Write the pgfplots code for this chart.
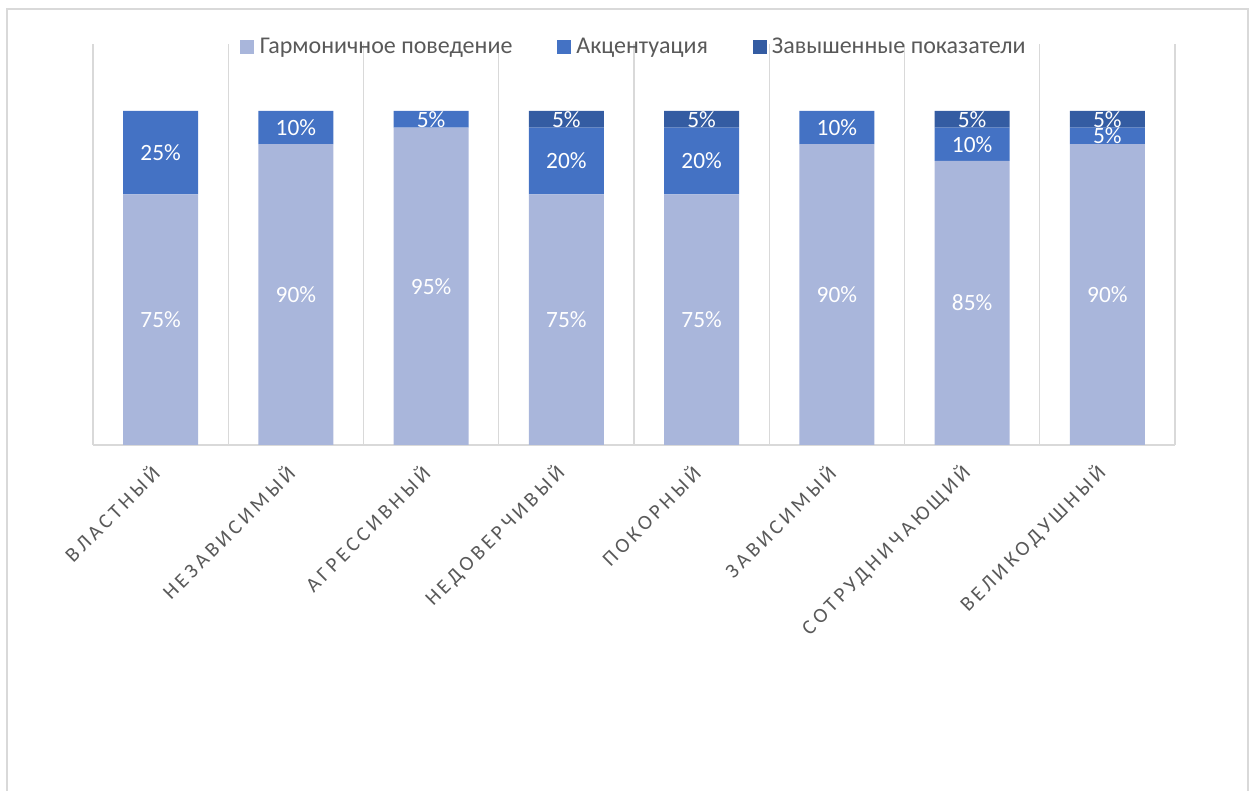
\documentclass[border=0pt]{standalone}
\usepackage{pgfplots}
\pgfplotsset{compat=1.18}
\usepackage{pgfplotstable}
\usepackage{fontspec}
\setmainfont{Carlito}
\newfontfamily\catfont[LetterSpace=18]{Carlito}

\definecolor{harm}{HTML}{A9B6DB}
\definecolor{acc}{HTML}{4472C4}
\definecolor{high}{HTML}{345CA2}
\definecolor{gridc}{HTML}{D9D9D9}
\definecolor{txt}{HTML}{595959}

% x: category index, g: harmonious, a: accentuation, z: elevated
\pgfplotstableread{
x g a z
0 75 25 0
1 90 10 0
2 95 5 0
3 75 20 5
4 75 20 5
5 90 10 0
6 85 10 5
7 90 5 5
}\datatable

\begin{document}
\begin{tikzpicture}
\useasboundingbox (0pt,0pt) rectangle (942pt,593.25pt);
\draw[gridc, line width=1.5pt] (5.25pt,-2pt) -- (5.25pt,586.5pt) -- (936pt,586.5pt) -- (936pt,-2pt);
\begin{axis}[
  at={(69.75pt,259.5pt)}, anchor=south west,
  scale only axis,
  width=811.5pt, height=300.75pt,
  ybar stacked, bar width=56.25pt,
  xmin=-0.5, xmax=7.5, ymin=0, ymax=120,
  axis y line=none, axis x line*=bottom,
  x axis line style={gridc, line width=1.2pt, -},
  xtick={0,...,7},
  xticklabels={ВЛАСТНЫЙ, НЕЗАВИСИМЫЙ, АГРЕССИВНЫЙ, НЕДОВЕРЧИВЫЙ, ПОКОРНЫЙ, ЗАВИСИМЫЙ, СОТРУДНИЧАЮЩИЙ, ВЕЛИКОДУШНЫЙ},
  xticklabel style={shift={(-1.5pt,-16pt)}, rotate=45, anchor=east, text=txt,
    font=\catfont\fontsize{15.5}{18}\selectfont},
  minor xtick={-0.5,0.5,...,7.5},
  xminorgrids, minor grid style={gridc, line width=0.8pt},
  major tick length=0pt, minor tick length=0pt,
  point meta=explicit,
  nodes near coords={\pgfmathfloatifflags{\pgfplotspointmeta}{0}{}{\pgfmathprintnumber[assume math mode=true]{\pgfplotspointmeta}\%}},
  every node near coord/.append style={anchor=center, text=white,
    font=\fontsize{17.5}{20}\selectfont},
  legend style={at={(0.5,0.9925)}, anchor=center, draw=none, fill=none,
    legend columns=3, font=\fontsize{18}{21}\selectfont, text=txt,
    /tikz/every odd column/.append style={column sep=2.5pt},
    /tikz/every even column/.append style={column sep=32pt},
    nodes={inner sep=1.5pt}},
  legend image code/.code={\fill[#1] (0pt,-5.25pt) rectangle (10.5pt,5.25pt);},
]
\addplot[fill=harm, draw=none] table[x=x, y=g, meta=g]{\datatable};
\addplot[fill=acc, draw=none] table[x=x, y=a, meta=a]{\datatable};
\addplot[fill=high, draw=none] table[x=x, y=z, meta=z]{\datatable};
\legend{Гармоничное поведение, Акцентуация, Завышенные показатели}
\end{axis}
\end{tikzpicture}
\end{document}
